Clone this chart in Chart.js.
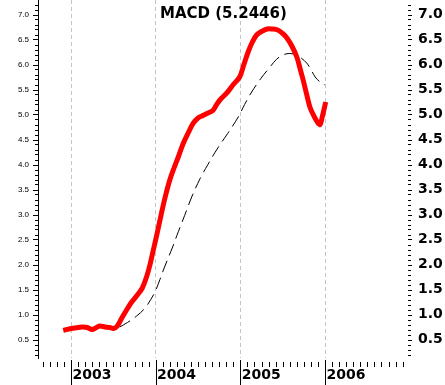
<!DOCTYPE html>
<html>
<head>
<meta charset="utf-8">
<script src="https://cdn.jsdelivr.net/npm/chart.js@4/dist/chart.umd.min.js"></script>
<style>
    html, body { margin: 0; padding: 0; background: #fff; }
</style>
</head>
<body>
<canvas id="graficoMacd" width="445" height="385"></canvas>
<script>
// meses contados desde enero 2003 (0 = ene 2003)
const mesesMacd = [-1.1, -0.3, 0.5, 1.6, 2.3, 3.0, 3.6, 4.1, 4.8, 5.5, 6.0, 6.5, 7.2, 8.0, 8.6, 9.4, 10.1, 10.7, 11.2, 11.6,
    12.2, 12.9, 13.4, 14.0, 14.6, 15.2, 15.9, 16.6, 17.3, 18.0, 18.7, 19.4, 20.1, 20.6, 21.1, 22.2, 23.0, 23.9,
    24.5, 25.1, 25.7, 26.3, 27.0, 27.8, 28.5, 29.3, 30.0, 30.6, 31.3, 32.0, 32.5, 32.9, 33.4, 33.9, 34.5, 35.0, 35.3, 35.6, 36.1];
const valoresMacd = [0.68, 0.71, 0.73, 0.75, 0.74, 0.70, 0.74, 0.77, 0.75, 0.74, 0.72, 0.76, 0.93, 1.12, 1.25, 1.39, 1.53, 1.75, 2.00, 2.25,
    2.62, 3.08, 3.38, 3.69, 3.93, 4.15, 4.42, 4.63, 4.82, 4.93, 4.98, 5.03, 5.08, 5.19, 5.29, 5.45, 5.60, 5.75,
    6.00, 6.25, 6.45, 6.59, 6.66, 6.71, 6.71, 6.69, 6.62, 6.53, 6.37, 6.15, 5.90, 5.69, 5.40, 5.13, 4.95, 4.83, 4.80, 4.95, 5.25];

const mesesSenal = [6.9, 8.0, 9.3, 10.5, 11.3, 11.9, 12.6, 13.2, 14.4, 15.0, 16.1, 17.1, 18.3, 19.4, 20.8, 22.2, 23.7,
    24.6, 25.6, 26.9, 28.2, 29.1, 30.0, 31.0, 32.0, 32.7, 33.4, 34.0, 34.6, 35.3, 36.0];
const valoresSenal = [0.75, 0.84, 0.97, 1.13, 1.30, 1.45, 1.70, 1.93, 2.35, 2.58, 2.98, 3.35, 3.72, 4.00, 4.33, 4.62, 4.95,
    5.20, 5.45, 5.72, 5.95, 6.10, 6.19, 6.22, 6.19, 6.12, 6.03, 5.90, 5.75, 5.65, 5.59];

const anios = ["2003", "2004", "2005", "2006"];
const titulo = "MACD (5.2446)";

const esMedio = (v) => Math.abs(v * 2 - Math.round(v * 2)) < 1e-6;

// sin relleno extra: el area del grafico ocupa todo menos los ejes
const fijar = (ancho, alto) => (s) => {
    if (ancho !== null) s.width = ancho;
    if (alto !== null) s.height = alto;
    s.paddingTop = 0;
    s.paddingBottom = 0;
    s.paddingLeft = 0;
    s.paddingRight = 0;
};

// marcas de los ejes y el titulo
const marcasPlugin = {
    id: "marcas",
    afterDraw(chart) {
        const ctx = chart.ctx;
        const area = chart.chartArea;
        const y = chart.scales.y;
        const x = chart.scales.x;
        ctx.save();
        ctx.strokeStyle = "#000";
        ctx.lineWidth = 1;
        ctx.beginPath();
        y.ticks.forEach((t) => {
            const py = Math.round(y.getPixelForValue(t.value)) + 0.5;
            const largo = esMedio(t.value) ? 5 : 3;
            ctx.moveTo(area.left - largo, py);
            ctx.lineTo(area.left, py);
            const largo2 = esMedio(t.value) ? 4 : 3;
            ctx.moveTo(area.right - 1, py);
            ctx.lineTo(area.right - 1 + largo2, py);
        });
        x.ticks.forEach((t) => {
            const px = Math.round(x.getPixelForValue(t.value)) + 0.5;
            if (t.value % 12 === 0) {
                ctx.moveTo(px, area.bottom + 2);
                ctx.lineTo(px, chart.height);
            } else {
                ctx.moveTo(px, area.bottom + 4);
                ctx.lineTo(px, area.bottom + 9);
            }
        });
        ctx.stroke();

        ctx.fillStyle = "#000";
        ctx.font = "bold 15px 'DejaVu Sans'";
        ctx.textBaseline = "alphabetic";
        ctx.fillText(titulo, 160, 18);
        ctx.restore();
    },
};

const ctx = document.getElementById("graficoMacd").getContext("2d");
const chart = new Chart(ctx, {
    type: "line",
    data: {
        datasets: [
            {
                label: "MACD",
                data: mesesMacd.map((m, i) => ({ x: m, y: valoresMacd[i] })),
                borderColor: "#ff0000",
                borderWidth: 5,
                pointRadius: 0,
                tension: 0.35,
                yAxisID: "y",
            },
            {
                label: "Señal",
                data: mesesSenal.map((m, i) => ({ x: m, y: valoresSenal[i] })),
                borderColor: "#000000",
                borderWidth: 1,
                borderDash: [12, 6],
                pointRadius: 0,
                tension: 0.35,
                yAxisID: "y",
            },
        ],
    },
    options: {
        responsive: false,
        animation: false,
        layout: { padding: 0 },
        plugins: {
            legend: { display: false },
            tooltip: { enabled: false },
        },
        scales: {
            x: {
                type: "linear",
                min: -4.68,
                max: 47.9,
                afterFit: fijar(null, 27),
                border: { display: false, dash: [4, 3] },
                grid: {
                    color: (c) => (c.tick && c.tick.value % 12 === 0 ? "#c4c4c4" : "rgba(0,0,0,0)"),
                    tickColor: "rgba(0,0,0,0)",
                    tickLength: 6,
                },
                ticks: {
                    stepSize: 1,
                    includeBounds: false,
                    autoSkip: false,
                    maxRotation: 0,
                    align: "start",
                    padding: 3,
                    color: "#000",
                    font: { family: "DejaVu Sans", size: 14, weight: "bold" },
                    callback: (v) => (v % 12 === 0 && v >= 0 ? "\u200a" + anios[v / 12] : ""),
                },
            },
            y: {
                position: "left",
                min: 0.13,
                max: 7.29,
                afterFit: fijar(38, null),
                border: { display: true, color: "#000", width: 1 },
                grid: { drawOnChartArea: false, tickColor: "rgba(0,0,0,0)", tickLength: 8 },
                ticks: {
                    stepSize: 0.1,
                    includeBounds: false,
                    autoSkip: false,
                    padding: 1,
                    color: "#000",
                    font: { family: "Liberation Sans", size: 8 },
                    callback: (v) => (esMedio(v) ? v.toFixed(1) : ""),
                },
            },
            y2: {
                position: "right",
                min: 0.13,
                max: 7.29,
                afterFit: fijar(36, null),
                border: { display: false },
                grid: { drawOnChartArea: false, tickColor: "rgba(0,0,0,0)", tickLength: 6 },
                ticks: {
                    stepSize: 0.1,
                    includeBounds: false,
                    autoSkip: false,
                    padding: 3,
                    color: "#000",
                    font: { family: "DejaVu Sans", size: 14, weight: "bold" },
                    callback: (v) => (esMedio(v) ? v.toFixed(1) : ""),
                },
            },
        },
    },
    plugins: [marcasPlugin],
});
</script>
</body>
</html>
